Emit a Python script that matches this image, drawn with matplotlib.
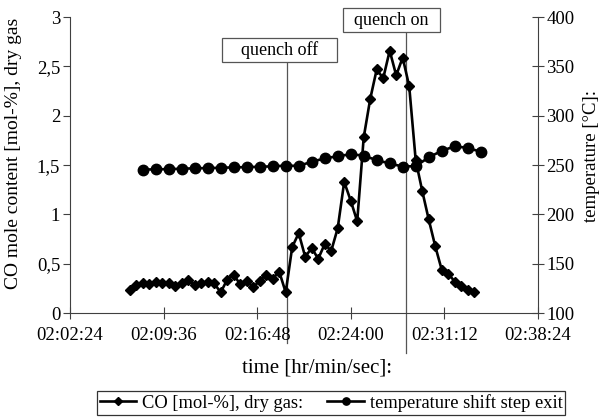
import matplotlib.pyplot as plt
from matplotlib.patches import Rectangle
from matplotlib.lines import Line2D
from matplotlib.ticker import FuncFormatter

plt.rcParams['font.family'] = ['Liberation Serif', 'DejaVu Serif']

# CO analyser, one reading every 30 s
co_time = ['02:07:00', '02:07:30', '02:08:00', '02:08:30', '02:09:00', '02:09:30',
           '02:10:00', '02:10:30', '02:11:00', '02:11:30', '02:12:00', '02:12:30',
           '02:13:00', '02:13:30', '02:14:00', '02:14:30', '02:15:00', '02:15:30',
           '02:16:00', '02:16:30', '02:17:00', '02:17:30', '02:18:00', '02:18:30',
           '02:19:00', '02:19:30', '02:20:00', '02:20:30', '02:21:00', '02:21:30',
           '02:22:00', '02:22:30', '02:23:00', '02:23:30', '02:24:00', '02:24:30',
           '02:25:00', '02:25:30', '02:26:00', '02:26:30', '02:27:00', '02:27:30',
           '02:28:00', '02:28:30', '02:29:00', '02:29:30', '02:30:00', '02:30:30',
           '02:31:00', '02:31:30', '02:32:00', '02:32:30', '02:33:00', '02:33:30']
co_value = [0.23, 0.28, 0.31, 0.29, 0.32, 0.31, 0.31, 0.27, 0.31, 0.34, 0.28, 0.30,
            0.32, 0.30, 0.21, 0.34, 0.39, 0.29, 0.33, 0.26, 0.33, 0.39, 0.35, 0.42,
            0.21, 0.67, 0.81, 0.57, 0.66, 0.55, 0.70, 0.63, 0.86, 1.33, 1.14, 0.93,
            1.78, 2.17, 2.47, 2.38, 2.66, 2.41, 2.59, 2.30, 1.55, 1.24, 0.95, 0.68,
            0.44, 0.40, 0.32, 0.27, 0.23, 0.21]

# shift step exit temperature, one reading per minute
temp_time = ['02:08:00', '02:09:00', '02:10:00', '02:11:00', '02:12:00', '02:13:00',
             '02:14:00', '02:15:00', '02:16:00', '02:17:00', '02:18:00', '02:19:00',
             '02:20:00', '02:21:00', '02:22:00', '02:23:00', '02:24:00', '02:25:00',
             '02:26:00', '02:27:00', '02:28:00', '02:29:00', '02:30:00', '02:31:00',
             '02:32:00', '02:33:00', '02:34:00']
temp_value = [245.5, 245.7, 246.0, 246.3, 246.8, 247.0, 247.3, 247.7, 248.0, 248.3,
              248.8, 249.5, 249.2, 253.4, 256.8, 259.0, 261.0, 259.6, 255.0, 251.7,
              248.5, 249.0, 257.8, 264.5, 269.0, 267.5, 263.5]

x_ticks = ['02:02:24', '02:09:36', '02:16:48', '02:24:00', '02:31:12', '02:38:24']
quench_off = '02:19:08'
quench_on = '02:28:15'


def sec(s):
    h, m, c = map(int, s.split(':'))
    return h * 3600 + m * 60 + c


spine_col = '#404040'

fig = plt.figure(figsize=(6.03, 4.18), dpi=100)
ax = fig.add_axes([0.116, 0.251, 0.776, 0.708])
ax2 = ax.twinx()

ax.plot([sec(t) for t in co_time], co_value, color='black', lw=1.9,
        marker='D', markersize=5.5, label='CO [mol-%], dry gas:')
ax2.plot([sec(t) for t in temp_time], temp_value, color='black', lw=1.9,
         marker='o', markersize=7.5, label='temperature shift step exit')

ax.set_xlim(sec(x_ticks[0]), sec(x_ticks[-1]))
ax.set_xticks([sec(t) for t in x_ticks], x_ticks)
ax.set_ylim(0, 3)
ax.set_yticks([0, 0.5, 1, 1.5, 2, 2.5, 3])
ax.yaxis.set_major_formatter(FuncFormatter(lambda v, p: f'{v:g}'.replace('.', ',')))
ax2.set_ylim(100, 400)
ax2.set_yticks(range(100, 401, 50))

for a in (ax, ax2):
    a.spines['top'].set_visible(False)
    for s in ('left', 'right', 'bottom'):
        a.spines[s].set_color(spine_col)
ax.spines['right'].set_visible(False)
ax2.spines['left'].set_visible(False)
ax2.spines['bottom'].set_visible(False)

ax.tick_params(axis='x', direction='inout', length=8, color=spine_col, labelsize=13.5, pad=6)
ax.tick_params(axis='y', direction='out', length=5, color=spine_col, labelsize=13.5, pad=2)
ax2.tick_params(axis='y', direction='inout', length=8, color=spine_col, labelsize=13.5, pad=2)

ax.set_xlabel('time [hr/min/sec]:', fontsize=15)
ax.xaxis.set_label_coords(0.529, -0.185)
ax.xaxis.label.set_va('center')
ax.set_ylabel('CO mole content [mol-%], dry gas', fontsize=14)
ax.yaxis.set_label_coords(-0.12, 0.54)
ax.yaxis.label.set_va('center')
ax2.set_ylabel('temperature [°C]:', fontsize=13.5)
ax2.yaxis.set_label_coords(1.115, 0.53)
ax2.yaxis.label.set_va('center')

# quench markers: thin line running from the label box down past the time axis
markers = [(quench_off, 'quench off', 0.848, -0.101, (0.325, 0.848, 0.245, 0.081)),
           (quench_on, 'quench on', 0.949, -0.135, (0.583, 0.949, 0.208, 0.081))]
for t, txt, top, bot, (bx, by, bw, bh) in markers:
    ax.add_line(Line2D([sec(t), sec(t)], [bot, top], transform=ax.get_xaxis_transform(),
                       color='#555555', lw=0.9, clip_on=False, zorder=1))
    ax.add_patch(Rectangle((bx, by), bw, bh, transform=ax.transAxes, facecolor='white',
                           edgecolor='#555555', lw=0.9, clip_on=False, zorder=5))
    ax.text(bx + bw / 2, by + bh / 2, txt, transform=ax.transAxes, ha='center',
            va='center', fontsize=13, zorder=6)

h1, l1 = ax.get_legend_handles_labels()
h2, l2 = ax2.get_legend_handles_labels()
leg = fig.legend(h1 + h2, l1 + l2, loc='center', bbox_to_anchor=(0.549, 0.036), ncol=2,
                 fontsize=13.3, frameon=True, fancybox=False, edgecolor='black',
                 handlelength=2.0, handletextpad=0.3, columnspacing=1.3,
                 borderpad=0.15, markerscale=0.7)
leg.get_frame().set_linewidth(0.9)

fig.savefig('out.png', dpi=100)
